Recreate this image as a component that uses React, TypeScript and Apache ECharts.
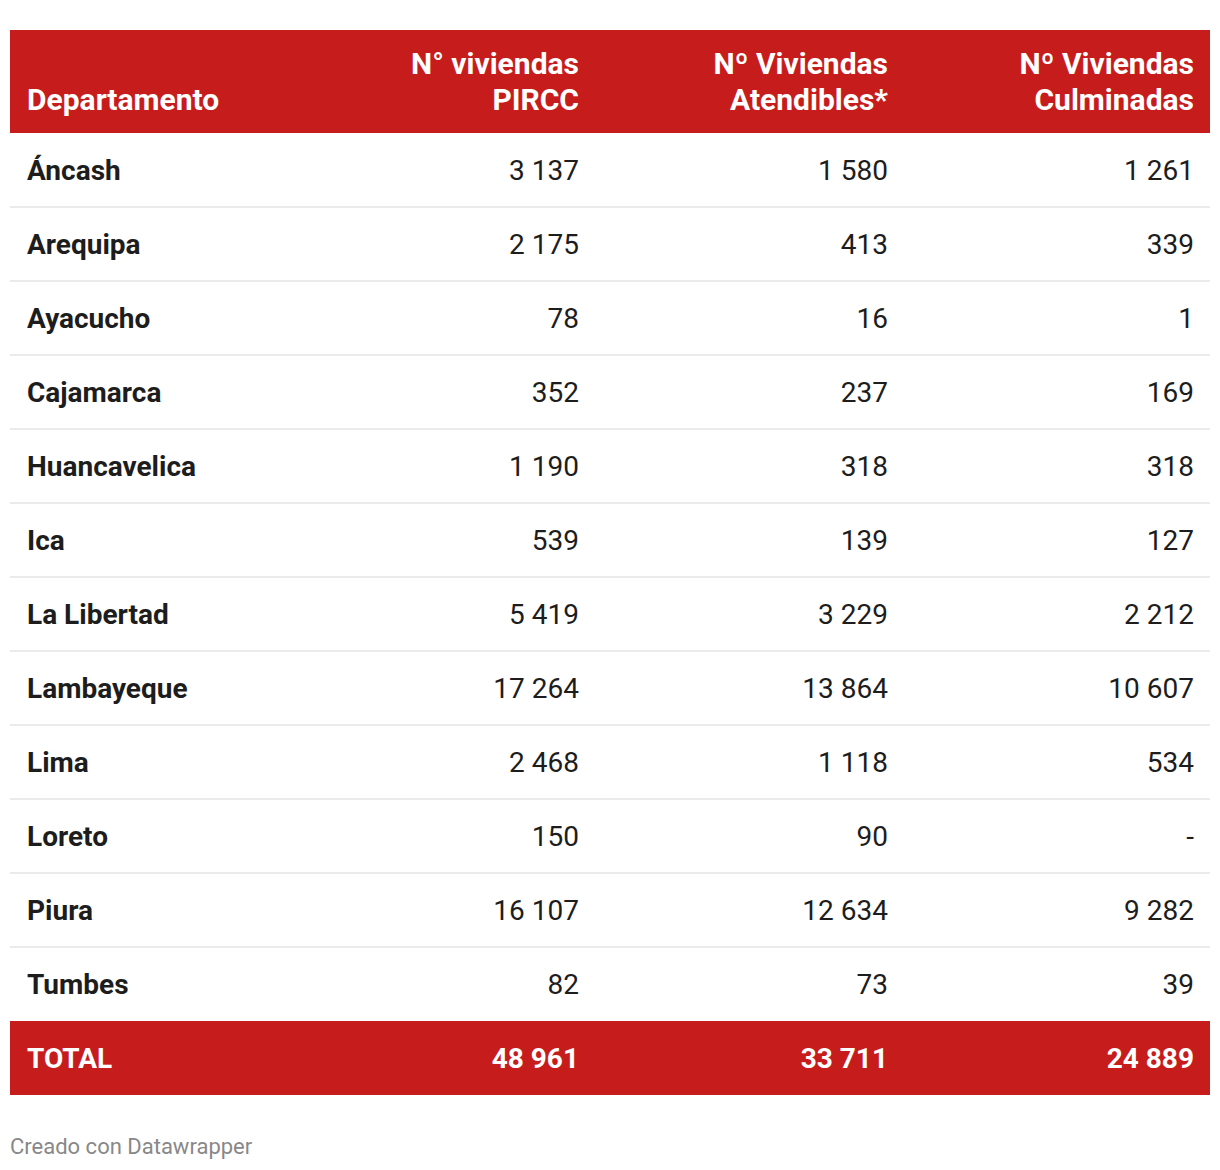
import React, { useEffect, useRef } from "react";
import * as echarts from "echarts";

const departments = [
  "Áncash", "Arequipa", "Ayacucho", "Cajamarca", "Huancavelica", "Ica",
  "La Libertad", "Lambayeque", "Lima", "Loreto", "Piura", "Tumbes",
];
const viviendasPIRCC = [3137, 2175, 78, 352, 1190, 539, 5419, 17264, 2468, 150, 16107, 82];
const viviendasAtendibles = [1580, 413, 16, 237, 318, 139, 3229, 13864, 1118, 90, 12634, 73];
const viviendasCulminadas: (number | null)[] = [1261, 339, 1, 169, 318, 127, 2212, 10607, 534, null, 9282, 39];
const totalLabel = "TOTAL";
const totals = [48961, 33711, 24889];
const headerLines = [
  ["", "Departamento"],
  ["N° viviendas", "PIRCC"],
  ["Nº Viviendas", "Atendibles*"],
  ["Nº Viviendas", "Culminadas"],
];
const footerText = "Creado con Datawrapper";

// layout (axis units = pixels inside grid)
const colEdges = [0, 585, 894, 1200];
const PAD_LEFT = 17;
const PAD_RIGHT = 16;
const RED = "#c71c1c";
const TEXT = "#1d1d1d";
const FONT = "Roboto, 'Noto Sans', sans-serif";

const fmt = (n: number | null) =>
  n == null ? "-" : String(n).replace(/\B(?=(\d{3})+(?!\d))/g, " ");

export default function App() {
  const ref = useRef<HTMLDivElement>(null);
  useEffect(() => {
    if (!ref.current) return;
    const chart = echarts.init(ref.current, undefined, { renderer: "svg" });
    const rowLabels = [...departments, totalLabel];
    const columns = [viviendasPIRCC, viviendasAtendibles, viviendasCulminadas];
    const cellData: any[] = [];
    rowLabels.forEach((_, r) => {
      for (let c = 0; c < 4; c++) cellData.push([c, r]);
    });
    const cellText = (c: number, r: number) => {
      if (r === departments.length) return c === 0 ? totalLabel : fmt(totals[c - 1]);
      return c === 0 ? departments[r] : fmt(columns[c - 1][r]);
    };
    const gridLeft = 10;
    const gridTop = 133;
    const headerTop = 30;
    const headerH = gridTop - headerTop;
    const graphics: any[] = [
      { type: "rect", shape: { x: gridLeft, y: headerTop, width: 1200, height: headerH }, style: { fill: RED } },
    ];
    headerLines.forEach((lines, c) => {
      lines.forEach((t, li) => {
        if (!t) return;
        const x = c === 0 ? gridLeft + PAD_LEFT : gridLeft + colEdges[c] - PAD_RIGHT;
        graphics.push({
          type: "text",
          x,
          y: li === 0 ? 63 : 99,
          style: {
            text: t,
            fill: "#ffffff",
            font: `bold 30px ${FONT}`,
            align: c === 0 ? "left" : "right",
            verticalAlign: "middle",
          },
        });
      });
    });
    graphics.push({
      type: "text",
      x: gridLeft,
      y: 1146,
      style: { text: footerText, fill: "#888888", font: `22px ${FONT}`, align: "left", verticalAlign: "middle" },
    });

    chart.setOption({
      animation: false,
      grid: { left: gridLeft, right: 10, top: gridTop, bottom: 75 },
      xAxis: { type: "value", min: 0, max: 1200, show: false },
      yAxis: { type: "category", inverse: true, data: rowLabels, show: false },
      graphic: graphics,
      series: [
        {
          type: "custom",
          silent: true,
          data: rowLabels.map((_, r) => [0, r]),
          renderItem: (params: any, api: any) => {
            const r = api.value(1);
            const [x0, yc] = api.coord([0, r]);
            const [x1] = api.coord([1200, r]);
            const h = api.size([0, 1])[1];
            if (r === departments.length) {
              return { type: "rect", shape: { x: x0, y: yc - h / 2, width: x1 - x0, height: h }, style: { fill: RED } };
            }
            if (r < departments.length - 1) {
              return {
                type: "rect",
                shape: { x: x0, y: yc + h / 2 - 1, width: x1 - x0, height: 2 },
                style: { fill: "#ebebeb" },
              };
            }
            return { type: "group", children: [] };
          },
        },
        {
          type: "custom",
          silent: true,
          data: cellData,
          renderItem: (params: any, api: any) => {
            const c = api.value(0);
            const r = api.value(1);
            const isTotal = r === departments.length;
            const xVal = c === 0 ? colEdges[0] : colEdges[c];
            const [px, py] = api.coord([xVal, r]);
            const x = c === 0 ? px + PAD_LEFT : px - PAD_RIGHT;
            const bold = c === 0 || isTotal;
            return {
              type: "text",
              x,
              y: py,
              style: {
                text: cellText(c, r),
                fill: isTotal ? "#ffffff" : TEXT,
                font: `${bold ? "bold " : ""}28px ${FONT}`,
                align: c === 0 ? "left" : "right",
                verticalAlign: "middle",
              },
            };
          },
        },
      ],
    });
    return () => chart.dispose();
  }, []);
  return (
    <div
      ref={ref}
      style={{ position: "absolute", left: 0, top: 0, width: 1220, height: 1170, background: "#fff" }}
    />
  );
}
